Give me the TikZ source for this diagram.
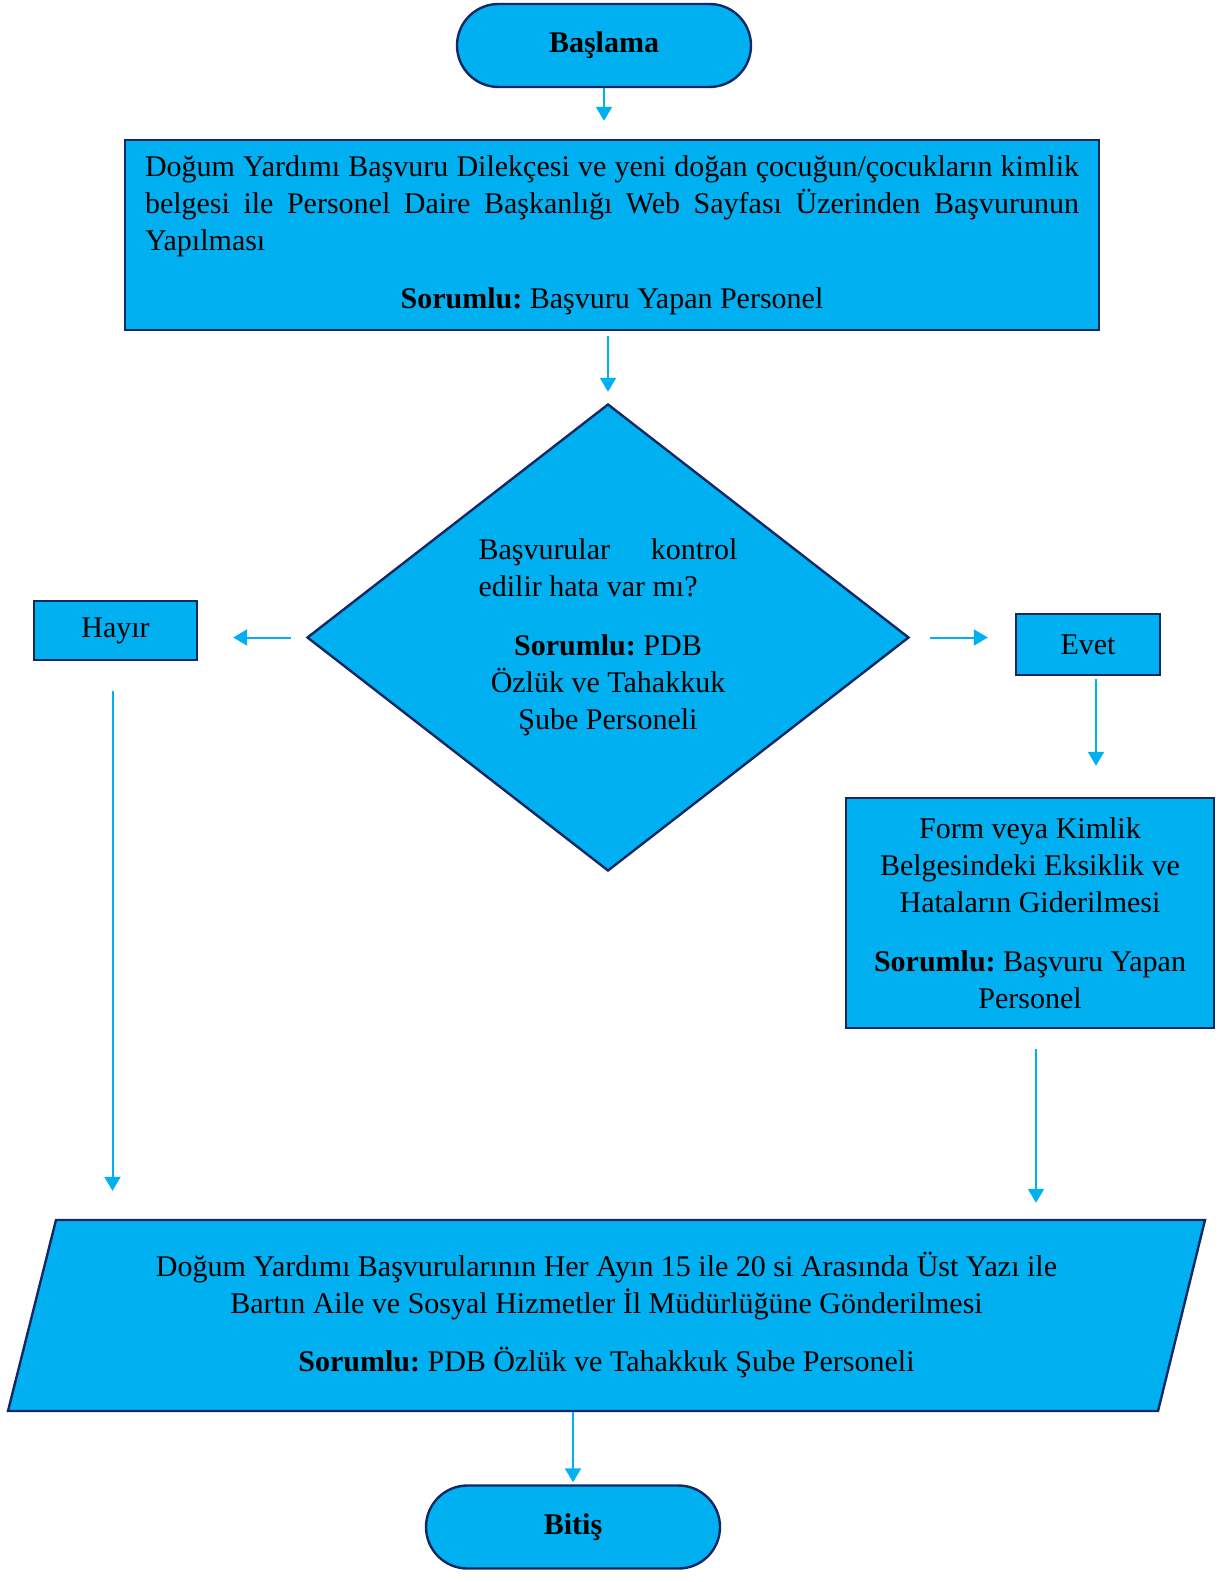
\documentclass[tikz,border=0pt]{standalone}
\usepackage{fontspec}
\setmainfont{Liberation Serif}
\usetikzlibrary{shapes.geometric, shapes.misc, arrows.meta}
\definecolor{akisdolgu}{RGB}{0,176,240}
\definecolor{akiskenar}{RGB}{16,40,100}

\begin{document}
\frenchspacing
\begin{tikzpicture}[x=0.5pt, y=-0.5pt,
    kutu/.style={draw=akiskenar, line width=1.2pt, fill=akisdolgu, inner sep=0pt, font=\fontsize{15}{18.5}\selectfont},
    uc/.style={kutu, rounded rectangle, minimum width=147pt, minimum height=41.5pt, font=\bfseries\fontsize{15}{18.5}\selectfont},
    ok/.style={-{Triangle[length=7pt, width=8pt]}, draw=akisdolgu, line width=1pt}]
    \useasboundingbox (0,0) rectangle (1229,1582);
    \node[uc] (basla) at (604,45.5) {Başlama};
    \node[kutu, minimum width=487pt, minimum height=95pt, text width=467pt, align=justify] (basvuru) at (612,235) {Doğum Yardımı Başvuru Dilekçesi ve yeni doğan çocuğun/çocukların kimlik\linebreak belgesi ile Personel Daire Başkanlığı Web Sayfası Üzerinden Başvurunun\linebreak Yapılması\par\vspace{10.5pt}{\centering\textbf{Sorumlu:} Başvuru Yapan Personel\par}};
    \node[kutu, diamond, minimum width=301pt, minimum height=233.5pt, text width=129.5pt, align=justify] (kontrol) at (608,637.5) {Başvurular kontrol\linebreak edilir hata var mı?\par\vspace{11pt}{\centering\textbf{Sorumlu:} PDB\\Özlük ve Tahakkuk\\Şube Personeli\par}\vspace{6pt}};
    \node[kutu, minimum width=81.5pt, minimum height=29.5pt] (hayir) at (115.5,630.5) {Hayır};
    \node[kutu, minimum width=72pt, minimum height=30.5pt] (evet) at (1088,644.5) {Evet};
    \node[kutu, minimum width=184pt, minimum height=115pt, text width=175pt, align=flush center] (duzelt) at (1030,913) {Form veya Kimlik\\Belgesindeki Eksiklik ve\\Hataların Giderilmesi\\[11pt]\textbf{Sorumlu:} Başvuru Yapan\\Personel};
    \draw[kutu] (8,1411) -- (56,1220) -- (1205,1220) -- (1158,1411) -- cycle;
    \node[kutu, draw=none, fill=none, minimum width=575pt, minimum height=95.5pt, align=flush center] (gonder) at (606.5,1315.5) {Doğum Yardımı Başvurularının Her Ayın 15 ile 20 si Arasında Üst Yazı ile\\Bartın Aile ve Sosyal Hizmetler İl Müdürlüğüne Gönderilmesi\\[10.5pt]\textbf{Sorumlu:} PDB Özlük ve Tahakkuk Şube Personeli};
    \node[uc] (bitis) at (573,1527) {Bitiş};
    \draw[ok, shorten >=9pt] (basla.south) -- (basla.south |- basvuru.north);
    \draw[ok, shorten <=2.5pt, shorten >=5.5pt] (basvuru.south -| kontrol.north) -- (kontrol.north);
    \draw[ok, shorten <=7.5pt, shorten >=17.5pt] (kontrol.west) -- (kontrol.west -| hayir.east);
    \draw[ok, shorten <=10pt, shorten >=13.5pt] (kontrol.east) -- (kontrol.east -| evet.west);
    \draw[ok, shorten <=1.5pt, shorten >=15.5pt] ([xshift=4pt]evet.south) -- ([xshift=4pt]evet.south |- duzelt.north);
    \draw[ok, shorten <=10pt, shorten >=8pt] ([xshift=3pt]duzelt.south) -- ([xshift=3pt]duzelt.south |- gonder.north);
    \draw[ok, shorten <=15pt, shorten >=14pt] ([xshift=-1.5pt]hayir.south) -- ([xshift=-1.5pt]hayir.south |- gonder.north);
    \draw[ok, shorten >=1pt] (gonder.south -| bitis.north) -- (bitis.north);
\end{tikzpicture}
\end{document}
